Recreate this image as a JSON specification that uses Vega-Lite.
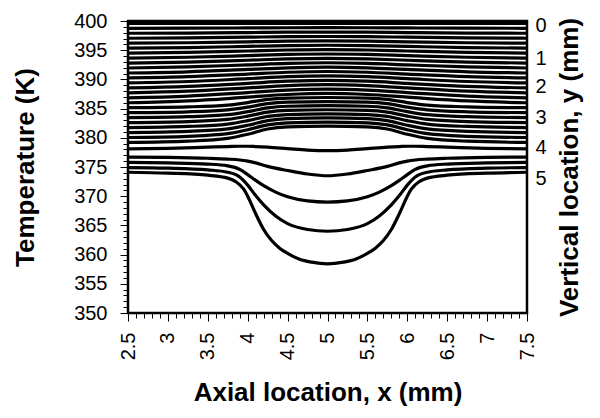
{
 "$schema": "https://vega.github.io/schema/vega-lite/v6.json",
 "width": 399, "height": 292,
 "autosize": {"type": "none"},
 "padding": {"left": 128, "top": 21, "right": 73, "bottom": 105},
 "background": "white",
 "config": {
  "font": "Liberation Sans",
  "view": {"stroke": "black", "strokeWidth": 2.5},
  "axis": {"grid": false, "domain": false, "tickColor": "black", "tickWidth": 1, "labelColor": "black", "titleColor": "black", "labelFont": "Liberation Sans", "titleFont": "Liberation Sans", "labelFontSize": 20, "titleFontSize": 26, "titleFontWeight": "bold", "labelFlush": false, "labelOverlap": false}
 },
 "datasets": {
  "curves": [
   {"s":0,"x":2.5,"T":399.6},{"s":0,"x":5,"T":399.6},{"s":0,"x":7.5,"T":399.6},
   {"s":1,"x":2.5,"T":398.75},{"s":1,"x":3.25,"T":398.77},{"s":1,"x":4,"T":398.81},{"s":1,"x":4.5,"T":398.84},{"s":1,"x":5,"T":398.85},{"s":1,"x":5.5,"T":398.84},{"s":1,"x":6,"T":398.81},{"s":1,"x":6.75,"T":398.77},{"s":1,"x":7.5,"T":398.75},
   {"s":2,"x":2.5,"T":397.9},{"s":2,"x":3.25,"T":397.94},{"s":2,"x":4,"T":398.02},{"s":2,"x":4.5,"T":398.08},{"s":2,"x":5,"T":398.1},{"s":2,"x":5.5,"T":398.08},{"s":2,"x":6,"T":398.02},{"s":2,"x":6.75,"T":397.94},{"s":2,"x":7.5,"T":397.9},
   {"s":3,"x":2.5,"T":397.05},{"s":3,"x":3.25,"T":397.11},{"s":3,"x":4,"T":397.23},{"s":3,"x":4.5,"T":397.31},{"s":3,"x":5,"T":397.35},{"s":3,"x":5.5,"T":397.31},{"s":3,"x":6,"T":397.23},{"s":3,"x":6.75,"T":397.11},{"s":3,"x":7.5,"T":397.05},
   {"s":4,"x":2.5,"T":396.2},{"s":4,"x":3.25,"T":396.28},{"s":4,"x":4,"T":396.44},{"s":4,"x":4.5,"T":396.55},{"s":4,"x":5,"T":396.6},{"s":4,"x":5.5,"T":396.55},{"s":4,"x":6,"T":396.44},{"s":4,"x":6.75,"T":396.28},{"s":4,"x":7.5,"T":396.2},
   {"s":5,"x":2.5,"T":395.35},{"s":5,"x":3.25,"T":395.45},{"s":5,"x":4,"T":395.65},{"s":5,"x":4.5,"T":395.79},{"s":5,"x":5,"T":395.85},{"s":5,"x":5.5,"T":395.79},{"s":5,"x":6,"T":395.65},{"s":5,"x":6.75,"T":395.45},{"s":5,"x":7.5,"T":395.35},
   {"s":6,"x":2.5,"T":394.5},{"s":6,"x":3.25,"T":394.62},{"s":6,"x":4,"T":394.86},{"s":6,"x":4.5,"T":395.03},{"s":6,"x":5,"T":395.1},{"s":6,"x":5.5,"T":395.03},{"s":6,"x":6,"T":394.86},{"s":6,"x":6.75,"T":394.62},{"s":6,"x":7.5,"T":394.5},
   {"s":7,"x":2.5,"T":393.65},{"s":7,"x":3.25,"T":393.79},{"s":7,"x":4,"T":394.07},{"s":7,"x":4.5,"T":394.27},{"s":7,"x":5,"T":394.35},{"s":7,"x":5.5,"T":394.27},{"s":7,"x":6,"T":394.07},{"s":7,"x":6.75,"T":393.79},{"s":7,"x":7.5,"T":393.65},
   {"s":8,"x":2.5,"T":392.8},{"s":8,"x":3.25,"T":392.96},{"s":8,"x":4,"T":393.28},{"s":8,"x":4.5,"T":393.5},{"s":8,"x":5,"T":393.6},{"s":8,"x":5.5,"T":393.5},{"s":8,"x":6,"T":393.28},{"s":8,"x":6.75,"T":392.96},{"s":8,"x":7.5,"T":392.8},
   {"s":9,"x":2.5,"T":391.95},{"s":9,"x":3.25,"T":392.13},{"s":9,"x":4,"T":392.49},{"s":9,"x":4.5,"T":392.74},{"s":9,"x":5,"T":392.85},{"s":9,"x":5.5,"T":392.74},{"s":9,"x":6,"T":392.49},{"s":9,"x":6.75,"T":392.13},{"s":9,"x":7.5,"T":391.95},
   {"s":10,"x":2.5,"T":391.1},{"s":10,"x":3.25,"T":391.3},{"s":10,"x":4,"T":391.7},{"s":10,"x":4.5,"T":391.98},{"s":10,"x":5,"T":392.1},{"s":10,"x":5.5,"T":391.98},{"s":10,"x":6,"T":391.7},{"s":10,"x":6.75,"T":391.3},{"s":10,"x":7.5,"T":391.1},
   {"s":11,"x":2.5,"T":390.25},{"s":11,"x":3.25,"T":390.47},{"s":11,"x":4,"T":390.91},{"s":11,"x":4.5,"T":391.22},{"s":11,"x":5,"T":391.35},{"s":11,"x":5.5,"T":391.22},{"s":11,"x":6,"T":390.91},{"s":11,"x":6.75,"T":390.47},{"s":11,"x":7.5,"T":390.25},
   {"s":12,"x":2.5,"T":389.4},{"s":12,"x":3.25,"T":389.64},{"s":12,"x":4,"T":390.12},{"s":12,"x":4.5,"T":390.46},{"s":12,"x":5,"T":390.6},{"s":12,"x":5.5,"T":390.46},{"s":12,"x":6,"T":390.12},{"s":12,"x":6.75,"T":389.64},{"s":12,"x":7.5,"T":389.4},
   {"s":13,"x":2.5,"T":388.55},{"s":13,"x":3.25,"T":388.81},{"s":13,"x":4,"T":389.33},{"s":13,"x":4.5,"T":389.69},{"s":13,"x":5,"T":389.85},{"s":13,"x":5.5,"T":389.69},{"s":13,"x":6,"T":389.33},{"s":13,"x":6.75,"T":388.81},{"s":13,"x":7.5,"T":388.55},
   {"s":14,"x":2.5,"T":387.7},{"s":14,"x":3.25,"T":387.98},{"s":14,"x":4,"T":388.54},{"s":14,"x":4.5,"T":388.93},{"s":14,"x":5,"T":389.1},{"s":14,"x":5.5,"T":388.93},{"s":14,"x":6,"T":388.54},{"s":14,"x":6.75,"T":387.98},{"s":14,"x":7.5,"T":387.7},
   {"s":15,"x":2.5,"T":386.85},{"s":15,"x":3.25,"T":387.15},{"s":15,"x":4,"T":387.75},{"s":15,"x":4.5,"T":388.17},{"s":15,"x":5,"T":388.35},{"s":15,"x":5.5,"T":388.17},{"s":15,"x":6,"T":387.75},{"s":15,"x":6.75,"T":387.15},{"s":15,"x":7.5,"T":386.85},
   {"s":16,"x":2.5,"T":386.0},{"s":16,"x":3.25,"T":386.32},{"s":16,"x":4,"T":386.96},{"s":16,"x":4.5,"T":387.41},{"s":16,"x":5,"T":387.6},{"s":16,"x":5.5,"T":387.41},{"s":16,"x":6,"T":386.96},{"s":16,"x":6.75,"T":386.32},{"s":16,"x":7.5,"T":386.0},
   {"s":17,"x":2.5,"T":385.15},{"s":17,"x":3.25,"T":385.29},{"s":17,"x":3.75,"T":385.59},{"s":17,"x":4,"T":386.03},{"s":17,"x":4.25,"T":386.59},{"s":17,"x":4.5,"T":386.81},{"s":17,"x":5,"T":386.9},{"s":17,"x":5.5,"T":386.81},{"s":17,"x":5.75,"T":386.59},{"s":17,"x":6,"T":386.03},{"s":17,"x":6.25,"T":385.59},{"s":17,"x":6.75,"T":385.29},{"s":17,"x":7.5,"T":385.15},
   {"s":18,"x":2.5,"T":384.3},{"s":18,"x":3.25,"T":384.45},{"s":18,"x":3.75,"T":384.78},{"s":18,"x":4,"T":385.25},{"s":18,"x":4.25,"T":385.86},{"s":18,"x":4.5,"T":386.11},{"s":18,"x":5,"T":386.2},{"s":18,"x":5.5,"T":386.11},{"s":18,"x":5.75,"T":385.86},{"s":18,"x":6,"T":385.25},{"s":18,"x":6.25,"T":384.78},{"s":18,"x":6.75,"T":384.45},{"s":18,"x":7.5,"T":384.3},
   {"s":19,"x":2.5,"T":383.45},{"s":19,"x":3.25,"T":383.61},{"s":19,"x":3.75,"T":383.96},{"s":19,"x":4,"T":384.48},{"s":19,"x":4.25,"T":385.13},{"s":19,"x":4.5,"T":385.4},{"s":19,"x":5,"T":385.5},{"s":19,"x":5.5,"T":385.4},{"s":19,"x":5.75,"T":385.13},{"s":19,"x":6,"T":384.48},{"s":19,"x":6.25,"T":383.96},{"s":19,"x":6.75,"T":383.61},{"s":19,"x":7.5,"T":383.45},
   {"s":20,"x":2.5,"T":382.6},{"s":20,"x":3.25,"T":382.78},{"s":20,"x":3.75,"T":383.15},{"s":20,"x":4,"T":383.7},{"s":20,"x":4.25,"T":384.4},{"s":20,"x":4.5,"T":384.69},{"s":20,"x":5,"T":384.8},{"s":20,"x":5.5,"T":384.69},{"s":20,"x":5.75,"T":384.4},{"s":20,"x":6,"T":383.7},{"s":20,"x":6.25,"T":383.15},{"s":20,"x":6.75,"T":382.78},{"s":20,"x":7.5,"T":382.6},
   {"s":21,"x":2.5,"T":381.75},{"s":21,"x":3.25,"T":381.94},{"s":21,"x":3.75,"T":382.34},{"s":21,"x":4,"T":382.93},{"s":21,"x":4.25,"T":383.68},{"s":21,"x":4.5,"T":383.98},{"s":21,"x":5,"T":384.1},{"s":21,"x":5.5,"T":383.98},{"s":21,"x":5.75,"T":383.68},{"s":21,"x":6,"T":382.93},{"s":21,"x":6.25,"T":382.34},{"s":21,"x":6.75,"T":381.94},{"s":21,"x":7.5,"T":381.75},
   {"s":22,"x":2.5,"T":380.9},{"s":22,"x":3.25,"T":381.1},{"s":22,"x":3.75,"T":381.53},{"s":22,"x":4,"T":382.15},{"s":22,"x":4.25,"T":382.95},{"s":22,"x":4.5,"T":383.28},{"s":22,"x":5,"T":383.4},{"s":22,"x":5.5,"T":383.28},{"s":22,"x":5.75,"T":382.95},{"s":22,"x":6,"T":382.15},{"s":22,"x":6.25,"T":381.53},{"s":22,"x":6.75,"T":381.1},{"s":22,"x":7.5,"T":380.9},
   {"s":23,"x":2.5,"T":380.05},{"s":23,"x":3.25,"T":380.26},{"s":23,"x":3.75,"T":380.71},{"s":23,"x":4,"T":381.38},{"s":23,"x":4.25,"T":382.22},{"s":23,"x":4.5,"T":382.57},{"s":23,"x":5,"T":382.7},{"s":23,"x":5.5,"T":382.57},{"s":23,"x":5.75,"T":382.22},{"s":23,"x":6,"T":381.38},{"s":23,"x":6.25,"T":380.71},{"s":23,"x":6.75,"T":380.26},{"s":23,"x":7.5,"T":380.05},
   {"s":24,"x":2.5,"T":379.2},{"s":24,"x":3.25,"T":379.42},{"s":24,"x":3.75,"T":379.9},{"s":24,"x":4,"T":380.6},{"s":24,"x":4.25,"T":381.5},{"s":24,"x":4.5,"T":381.86},{"s":24,"x":5,"T":382.0},{"s":24,"x":5.5,"T":381.86},{"s":24,"x":5.75,"T":381.5},{"s":24,"x":6,"T":380.6},{"s":24,"x":6.25,"T":379.9},{"s":24,"x":6.75,"T":379.42},{"s":24,"x":7.5,"T":379.2},
   {"s":25,"x":2.5,"T":378.1},{"s":25,"x":3,"T":378.2},{"s":25,"x":3.5,"T":378.4},{"s":25,"x":3.75,"T":378.5},{"s":25,"x":3.9,"T":378.55},{"s":25,"x":4,"T":378.55},{"s":25,"x":4.1,"T":378.5},{"s":25,"x":4.25,"T":378.4},{"s":25,"x":4.5,"T":378.15},{"s":25,"x":4.75,"T":377.9},{"s":25,"x":5,"T":377.8},{"s":25,"x":5.25,"T":377.9},{"s":25,"x":5.5,"T":378.15},{"s":25,"x":5.75,"T":378.4},{"s":25,"x":5.9,"T":378.5},{"s":25,"x":6,"T":378.55},{"s":25,"x":6.1,"T":378.55},{"s":25,"x":6.25,"T":378.5},{"s":25,"x":6.5,"T":378.4},{"s":25,"x":7,"T":378.2},{"s":25,"x":7.5,"T":378.1},
   {"s":26,"x":2.5,"T":376.7},{"s":26,"x":3,"T":376.65},{"s":26,"x":3.5,"T":376.5},{"s":26,"x":3.75,"T":376.35},{"s":26,"x":3.9,"T":376.2},{"s":26,"x":4,"T":376.0},{"s":26,"x":4.1,"T":375.7},{"s":26,"x":4.25,"T":375.1},{"s":26,"x":4.5,"T":374.4},{"s":26,"x":4.75,"T":373.8},{"s":26,"x":5,"T":373.5},{"s":26,"x":5.25,"T":373.8},{"s":26,"x":5.5,"T":374.4},{"s":26,"x":5.75,"T":375.1},{"s":26,"x":5.9,"T":375.7},{"s":26,"x":6,"T":376.0},{"s":26,"x":6.1,"T":376.2},{"s":26,"x":6.25,"T":376.35},{"s":26,"x":6.5,"T":376.5},{"s":26,"x":7,"T":376.65},{"s":26,"x":7.5,"T":376.7},
   {"s":27,"x":2.5,"T":375.8},{"s":27,"x":3,"T":375.7},{"s":27,"x":3.5,"T":375.5},{"s":27,"x":3.75,"T":375.2},{"s":27,"x":3.9,"T":374.6},{"s":27,"x":4,"T":373.7},{"s":27,"x":4.1,"T":372.7},{"s":27,"x":4.2,"T":371.8},{"s":27,"x":4.35,"T":370.7},{"s":27,"x":4.5,"T":369.9},{"s":27,"x":4.75,"T":369.2},{"s":27,"x":5,"T":369.0},{"s":27,"x":5.25,"T":369.2},{"s":27,"x":5.5,"T":369.9},{"s":27,"x":5.65,"T":370.7},{"s":27,"x":5.8,"T":371.8},{"s":27,"x":5.9,"T":372.7},{"s":27,"x":6,"T":373.7},{"s":27,"x":6.1,"T":374.6},{"s":27,"x":6.25,"T":375.2},{"s":27,"x":6.5,"T":375.5},{"s":27,"x":7,"T":375.7},{"s":27,"x":7.5,"T":375.8},
   {"s":28,"x":2.5,"T":374.9},{"s":28,"x":3,"T":374.8},{"s":28,"x":3.5,"T":374.5},{"s":28,"x":3.75,"T":374.1},{"s":28,"x":3.9,"T":373.3},{"s":28,"x":4,"T":371.9},{"s":28,"x":4.1,"T":370.1},{"s":28,"x":4.2,"T":368.5},{"s":28,"x":4.35,"T":366.6},{"s":28,"x":4.5,"T":365.3},{"s":28,"x":4.75,"T":364.3},{"s":28,"x":5,"T":364.0},{"s":28,"x":5.25,"T":364.3},{"s":28,"x":5.5,"T":365.3},{"s":28,"x":5.65,"T":366.6},{"s":28,"x":5.8,"T":368.5},{"s":28,"x":5.9,"T":370.1},{"s":28,"x":6,"T":371.9},{"s":28,"x":6.1,"T":373.3},{"s":28,"x":6.25,"T":374.1},{"s":28,"x":6.5,"T":374.5},{"s":28,"x":7,"T":374.8},{"s":28,"x":7.5,"T":374.9},
   {"s":29,"x":2.5,"T":374.1},{"s":29,"x":3,"T":373.95},{"s":29,"x":3.5,"T":373.6},{"s":29,"x":3.75,"T":373.1},{"s":29,"x":3.85,"T":372.5},{"s":29,"x":3.95,"T":371.2},{"s":29,"x":4,"T":370.0},{"s":29,"x":4.05,"T":368.5},{"s":29,"x":4.1,"T":367.0},{"s":29,"x":4.2,"T":364.3},{"s":29,"x":4.3,"T":362.4},{"s":29,"x":4.4,"T":361.1},{"s":29,"x":4.5,"T":360.2},{"s":29,"x":4.65,"T":359.2},{"s":29,"x":4.8,"T":358.7},{"s":29,"x":5,"T":358.4},{"s":29,"x":5.2,"T":358.7},{"s":29,"x":5.35,"T":359.2},{"s":29,"x":5.5,"T":360.2},{"s":29,"x":5.6,"T":361.1},{"s":29,"x":5.7,"T":362.4},{"s":29,"x":5.8,"T":364.3},{"s":29,"x":5.9,"T":367.0},{"s":29,"x":5.95,"T":368.5},{"s":29,"x":6,"T":370.0},{"s":29,"x":6.05,"T":371.2},{"s":29,"x":6.15,"T":372.5},{"s":29,"x":6.25,"T":373.1},{"s":29,"x":6.5,"T":373.6},{"s":29,"x":7,"T":373.95},{"s":29,"x":7.5,"T":374.1}
  ]
 },
 "layer": [
  {
   "data": {"name": "curves"},
   "mark": {"type": "line", "interpolate": "monotone", "color": "black", "strokeWidth": 3.2, "clip": true},
   "encoding": {
    "x": {"field": "x", "type": "quantitative", "scale": {"domain": [2.5, 7.5], "nice": false, "zero": false},
     "axis": {"title": "Axial location, x (mm)", "values": [2.5,2.6,2.7,2.8,2.9,3,3.1,3.2,3.3,3.4,3.5,3.6,3.7,3.8,3.9,4,4.1,4.2,4.3,4.4,4.5,4.6,4.7,4.8,4.9,5,5.1,5.2,5.3,5.4,5.5,5.6,5.7,5.8,5.9,6,6.1,6.2,6.3,6.4,6.5,6.6,6.7,6.8,6.9,7,7.1,7.2,7.3,7.4,7.5],
      "labelAngle": 270, "labelExpr": "abs(round(datum.value*2)-datum.value*2)<0.001 ? format(datum.value, '~g') : ''",
      "tickSize": {"condition": {"test": "abs(round(datum.value*2)-datum.value*2)<0.001", "value": 8}, "value": 5},
      "labelPadding": 11, "titlePadding": 20}},
    "y": {"field": "T", "type": "quantitative", "scale": {"domain": [350, 400], "nice": false, "zero": false},
     "axis": {"title": "Temperature (K)", "values": [350,351,352,353,354,355,356,357,358,359,360,361,362,363,364,365,366,367,368,369,370,371,372,373,374,375,376,377,378,379,380,381,382,383,384,385,386,387,388,389,390,391,392,393,394,395,396,397,398,399,400],
      "labelExpr": "datum.value % 5 === 0 ? datum.label : ''",
      "tickSize": {"condition": {"test": "datum.value % 5 === 0", "value": 8}, "value": 5},
      "labelPadding": 13, "titlePadding": 35}},
    "detail": {"field": "s", "type": "nominal"}
   }
  },
  {
   "data": {"values": [{}]},
   "mark": {"type": "rule", "opacity": 0},
   "encoding": {
    "y": {"datum": 375, "type": "quantitative", "scale": {"domain": [350, 400], "nice": false, "zero": false},
     "axis": {"orient": "right", "title": "Vertical location, y (mm)", "values": [399.3, 393.6, 388.7, 383.5, 378.4, 373.1],
      "labelExpr": "datum.value > 399 ? '0' : datum.value > 393 ? '1' : datum.value > 388 ? '2' : datum.value > 383 ? '3' : datum.value > 378 ? '4' : '5'",
      "ticks": false, "labelPadding": 8, "titleAngle": 270, "titleBaseline": "top", "titlePadding": 10}}
   }
  }
 ],
 "resolve": {"scale": {"y": "independent"}}
}
